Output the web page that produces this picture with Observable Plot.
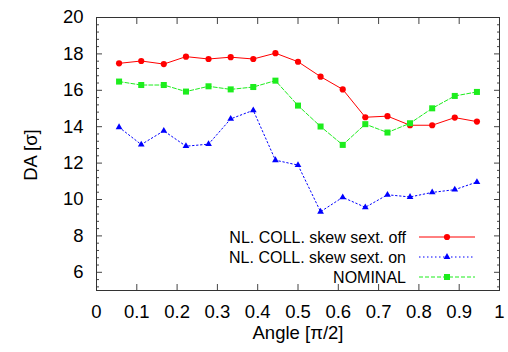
<!DOCTYPE html>
<html>
<head>
<meta charset="utf-8">
<script src="https://cdn.jsdelivr.net/npm/d3@7"></script>
<script src="https://cdn.jsdelivr.net/npm/@observablehq/plot@0.6"></script>
<style>
  html, body { margin: 0; padding: 0; background: #fff; }
  #chart { position: relative; width: 508px; height: 352px; }
  svg { font-family: "Liberation Sans", Arial, Helvetica, sans-serif; }
</style>
</head>
<body>
<div id="chart"></div>
<script>
// ---- data ----
const angles = [0.056, 0.111, 0.167, 0.222, 0.278, 0.333, 0.389, 0.444, 0.5,
                0.556, 0.611, 0.667, 0.722, 0.778, 0.833, 0.889, 0.944];
const skewOff = [17.48, 17.61, 17.44, 17.85, 17.72, 17.82, 17.72, 18.04, 17.57,
                 16.75, 16.05, 14.52, 14.58, 14.08, 14.08, 14.50, 14.28];
const skewOn = [13.97, 13.02, 13.77, 12.93, 13.04, 14.43, 14.90, 12.16, 11.89,
                9.33, 10.12, 9.57, 10.26, 10.14, 10.39, 10.54, 10.96];
const nominal = [16.48, 16.29, 16.29, 15.93, 16.22, 16.05, 16.18, 16.53, 15.16,
                 14.01, 13.00, 14.14, 13.68, 14.19, 15.01, 15.69, 15.91];
const seriesNames = ["NL. COLL. skew sext. off", "NL. COLL. skew sext. on", "NOMINAL"];
const xTicks = [0, 0.1, 0.2, 0.3, 0.4, 0.5, 0.6, 0.7, 0.8, 0.9, 1];
const xTickLabels = ["0", "0.1", "0.2", "0.3", "0.4", "0.5", "0.6", "0.7", "0.8", "0.9", "1"];
const yTicks = [6, 8, 10, 12, 14, 16, 18, 20];
const yMinorTicks = [5.2, 5.6, 6.4, 6.8, 7.2, 7.6, 8.4, 8.8, 9.2, 9.6, 10.4, 10.8, 11.2, 11.6,
                     12.4, 12.8, 13.2, 13.6, 14.4, 14.8, 15.2, 15.6, 16.4, 16.8, 17.2, 17.6,
                     18.4, 18.8, 19.2, 19.6];
const xLabel = "Angle [π/2]";
const yLabel = "DA [σ]";

// ---- styles ----
const styles = [
  {color: "#ff0000", dash: null, symbol: "circle", r: 3.1},
  {color: "#0000ff", dash: "1.5,2.5", symbol: "triangle", r: 2.5},
  {color: "#1ded1d", dash: "4,2", symbol: "square", r: 3.4}
];
const seriesValues = [skewOff, skewOn, nominal];
const rows = seriesValues.flatMap((vals, s) =>
  vals.map((v, i) => ({series: seriesNames[s], s, x: angles[i], y: v})));

const marks = [];
seriesNames.forEach((name, s) => {
  const d = rows.filter(r => r.s === s);
  const st = styles[s];
  marks.push(Plot.line(d, {x: "x", y: "y", stroke: st.color, strokeWidth: 1,
    strokeDasharray: st.dash ?? undefined}));
  marks.push(Plot.dot(d, {x: "x", y: "y", symbol: st.symbol, r: st.r,
    fill: st.color, stroke: "none"}));
});

const tickColor = "#444";
const fmt = d => xTickLabels[xTicks.indexOf(d)];
const chart = Plot.plot({
  width: 508,
  height: 352,
  marginLeft: 96,
  marginRight: 9,
  marginTop: 17,
  marginBottom: 62,
  style: {fontFamily: "Liberation Sans, Arial, sans-serif", background: "#fff"},
  x: {domain: [0, 1]},
  y: {domain: [5, 20]},
  marks: [
    // tick labels
    Plot.axisX(xTicks, {anchor: "bottom", tickSize: 0, tickPadding: 14, tickFormat: fmt,
      fontSize: 18.5, fill: "#000", label: null}),
    Plot.axisY(yTicks, {anchor: "left", tickSize: 0, tickPadding: 13,
      fontSize: 18.5, fill: "#000", label: null}),
    // inward ticks on all four sides
    Plot.axisX(xTicks, {anchor: "bottom", tickSize: -6, tickFormat: () => "", label: null, stroke: tickColor}),
    Plot.axisX(xTicks, {anchor: "top", tickSize: -6, tickFormat: () => "", label: null, stroke: tickColor}),
    Plot.axisY(yTicks, {anchor: "left", tickSize: -6, tickFormat: () => "", label: null, stroke: tickColor}),
    Plot.axisY(yTicks, {anchor: "right", tickSize: -6, tickFormat: () => "", label: null, stroke: tickColor}),
    Plot.axisY(yMinorTicks, {anchor: "left", tickSize: -3, tickFormat: () => "", label: null, stroke: tickColor}),
    Plot.axisY(yMinorTicks, {anchor: "right", tickSize: -3, tickFormat: () => "", label: null, stroke: tickColor}),
    ...marks,
    Plot.frame({stroke: "#333", strokeWidth: 1})
  ]
});
document.getElementById("chart").appendChild(chart);

// axis titles and legend (layout elements)
const svg = d3.select(chart);
svg.append("text")
  .attr("x", 298).attr("y", 339)
  .attr("text-anchor", "middle")
  .attr("font-size", 18.5)
  .attr("fill", "#000")
  .text(xLabel);
svg.append("text")
  .attr("transform", "translate(37,155) rotate(-90)")
  .attr("text-anchor", "middle")
  .attr("font-size", 18.5)
  .attr("fill", "#000")
  .text(yLabel);

const lg = svg.append("g").attr("class", "legend");
seriesNames.forEach((name, s) => {
  const st = styles[s];
  const cy = 237 + s * 20;
  lg.append("text")
    .attr("x", 406).attr("y", cy + 5.5)
    .attr("text-anchor", "end")
    .attr("font-size", 16)
    .attr("fill", "#000")
    .text(name);
  const ln = lg.append("line")
    .attr("x1", 419).attr("x2", 475).attr("y1", cy).attr("y2", cy)
    .attr("stroke", st.color).attr("stroke-width", 1);
  if (st.dash) ln.attr("stroke-dasharray", st.dash);
  lg.append("path")
    .attr("transform", `translate(447,${cy})`)
    .attr("d", d3.symbol(st.symbol === "circle" ? d3.symbolCircle : st.symbol === "triangle" ? d3.symbolTriangle : d3.symbolSquare, Math.PI * st.r * st.r)())
    .attr("fill", st.color);
});
</script>
</body>
</html>
